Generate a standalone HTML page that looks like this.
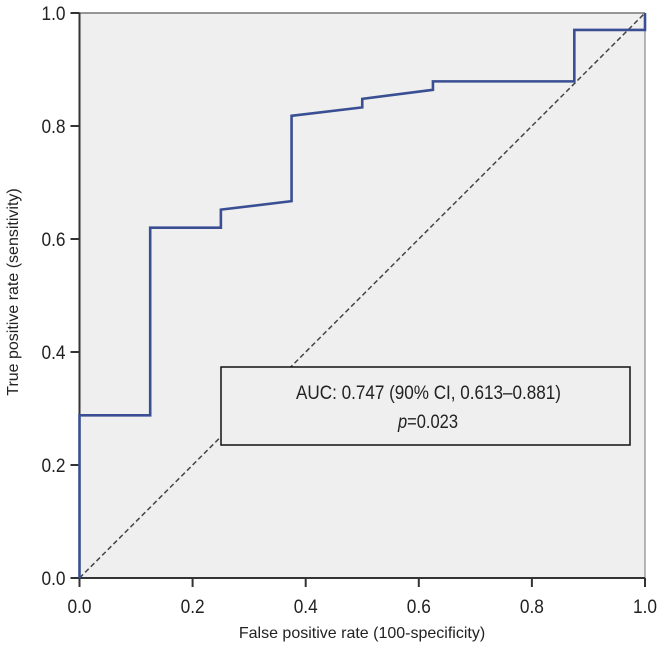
<!DOCTYPE html>
<html><head><meta charset="utf-8"><style>
body{margin:0;background:#fff;}
svg text{font-family:"Liberation Sans Narrow","Liberation Sans",sans-serif;fill:#222;}
</style></head><body>
<svg width="662" height="665">
<rect x="79.5" y="13" width="565.5" height="565" fill="#efefef"/>
<line x1="79.5" y1="13" x2="645" y2="13" stroke="#777" stroke-width="1.5"/>
<line x1="645" y1="13" x2="645" y2="578" stroke="#888" stroke-width="1.2"/>
<g id="axes"></g>
<line id="diag" stroke="#444" stroke-width="1.5" stroke-dasharray="5,3"/>
<path id="roc" fill="none" stroke="#3a4f93" stroke-width="2.6"/>
<rect x="221" y="367" width="409" height="78" fill="#efefef" stroke="#111" stroke-width="1.5"/>
<text x="296" y="399" font-size="19" textLength="265" lengthAdjust="spacingAndGlyphs">AUC: 0.747 (90% CI, 0.613–0.881)</text>
<text x="398" y="428" font-size="19" textLength="60" lengthAdjust="spacingAndGlyphs"><tspan font-style="italic">p</tspan>=0.023</text>
<text x="362" y="638" font-size="16" text-anchor="middle">False positive rate (100-specificity)</text>
<text transform="translate(18,292) rotate(-90)" font-size="16" text-anchor="middle">True positive rate (sensitivity)</text>
</svg>
<script>
const fpr=[0,0,0.125,0.125,0.25,0.25,0.375,0.375,0.5,0.5,0.625,0.625,0.875,0.875,1,1];
const tpr=[0,0.288,0.288,0.62,0.62,0.652,0.667,0.818,0.833,0.848,0.864,0.879,0.879,0.97,0.97,1];
const ticks=[0,0.2,0.4,0.6,0.8,1.0];
const tickLabels=["0.0","0.2","0.4","0.6","0.8","1.0"];
const X=v=>79.5+v*565.5, Y=v=>578-v*565;
const ns="http://www.w3.org/2000/svg";
document.getElementById('roc').setAttribute('d',fpr.map((v,i)=>(i?'L':'M')+X(v)+','+Y(tpr[i])).join(''));
const d=document.getElementById('diag');
d.setAttribute('x1',X(0));d.setAttribute('y1',Y(0));d.setAttribute('x2',X(1));d.setAttribute('y2',Y(1));
const g=document.getElementById('axes');
function mk(t,a){const e=document.createElementNS(ns,t);for(const k in a)e.setAttribute(k,a[k]);g.appendChild(e);return e;}
let e=mk('line',{x1:X(0),y1:Y(0),x2:X(0),y2:Y(1),stroke:'#333','stroke-width':2});


e=mk('line',{x1:X(0),y1:Y(0),x2:X(1),y2:Y(0),stroke:'#333','stroke-width':2});


ticks.forEach((t,i)=>{
 let a=mk('line',{x1:X(0)-9,x2:X(0),y1:Y(t),y2:Y(t),stroke:'#333','stroke-width':2});
 
 
 let b=mk('line',{x1:X(t),x2:X(t),y1:Y(0),y2:Y(0)+9,stroke:'#333','stroke-width':2});
 
 
 let ty=mk('text',{x:X(0)-38,y:Y(t)+7,'font-size':19,textLength:24,lengthAdjust:'spacingAndGlyphs'});ty.textContent=tickLabels[i];
 
 
 let tx=mk('text',{x:X(t)-12,y:Y(0)+35,'font-size':19,textLength:24,lengthAdjust:'spacingAndGlyphs'});tx.textContent=tickLabels[i];
 
 
});
</script>
</body></html>
